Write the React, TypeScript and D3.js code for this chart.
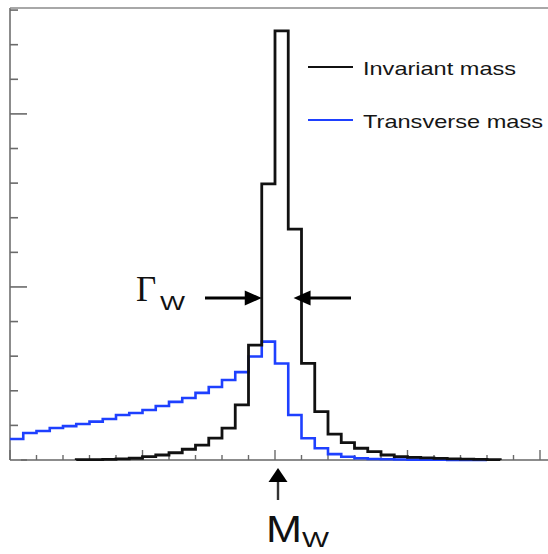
import React from "react";
import * as d3 from "d3";

// Bin contents (arbitrary units, one value per bin, 40 bins)
const invariantMass = [
  0, 0, 0, 0, 0, 0.01, 0.012, 0.02, 0.03, 0.05,
  0.095, 0.145, 0.21, 0.31, 0.43, 0.63, 0.92, 1.59, 3.32, 7.98,
  12.4, 6.67, 2.79, 1.4, 0.75, 0.5, 0.34, 0.24, 0.145, 0.095,
  0.075, 0.06, 0.045, 0.035, 0.025, 0.018, 0.012, 0, 0, 0,
];
const transverseMass = [
  0.607, 0.78, 0.84, 0.925, 0.98, 1.04, 1.11, 1.185, 1.3, 1.36,
  1.445, 1.56, 1.68, 1.79, 1.94, 2.11, 2.31, 2.54, 2.99, 3.42,
  2.79, 1.3, 0.63, 0.34, 0.17, 0.095, 0.05, 0.03, 0.02, 0.015,
  0.01, 0.008, 0.006, 0.005, 0.004, 0.003, 0, 0, 0, 0,
];
const seriesNames = ["Invariant mass", "Transverse mass"];
const seriesColors = ["#111111", "#1e40ff"];
const peakBin = 20; // M_W position (bin edge)
const widthEdges = [19, 21.4]; // Γ_W arrows point at these bin positions
const yTicks = d3.range(0, 14);
const xTicks = d3.range(0, 41, 2);

const W = 548;
const H = 554;

export default function App() {
  const x = d3.scaleLinear().domain([0, 40]).range([10, 540]);
  const y = d3.scaleLinear().domain([0, 13.06]).range([460, 8]);
  const xEnd = 548;

  const stepPath = (data: number[], fromAxis: boolean) => {
    let first = data.findIndex((v) => v > 0);
    let last = data.length - 1;
    while (last > 0 && data[last] === 0) last--;
    const pts: [number, number][] = [];
    if (fromAxis) pts.push([first, 0]);
    for (let i = first; i <= last; i++) pts.push([i, data[i]]);
    pts.push([last + 1, data[last]]);
    pts.push([last + 1, 0]);
    return d3
      .line<[number, number]>()
      .x((d) => x(d[0]))
      .y((d) => y(d[1]))
      .curve(d3.curveStepAfter)(pts) as string;
  };

  const axisColor = "#8c8c8c";
  const tickColor = "#6a6a6a";
  const arrowY = 298;
  const mx = x(peakBin) + 3;

  return (
    <svg
      width={W}
      height={H}
      style={{ position: "absolute", left: 0, top: 0, background: "#fff" }}
      fontFamily="'Liberation Sans', Arial, sans-serif"
    >
      <rect x={0} y={0} width={W} height={H} fill="#fff" />
      {/* frame */}
      <line x1={x(0)} x2={xEnd} y1={y(13.06)} y2={y(13.06)} stroke="#a8a8a8" strokeWidth={2} />
      <line x1={x(0)} x2={x(0)} y1={y(13.06)} y2={y(0)} stroke={axisColor} strokeWidth={2} />
      <line x1={x(0) + 11} x2={xEnd} y1={y(0)} y2={y(0)} stroke={axisColor} strokeWidth={2} />
      {/* y ticks */}
      {yTicks.map((t) => (
        <line
          key={"y" + t}
          x1={x(0)}
          x2={x(0) + (t % 5 === 0 ? 17 : 8)}
          y1={y(t)}
          y2={y(t)}
          stroke={tickColor}
          strokeWidth={1.6}
        />
      ))}
      {/* x ticks */}
      {xTicks.map((t) => (
        <line
          key={"x" + t}
          x1={x(t)}
          x2={x(t)}
          y1={y(0)}
          y2={y(0) - (t % 10 === 0 ? 10 : 5)}
          stroke={tickColor}
          strokeWidth={1.4}
        />
      ))}
      {/* histograms */}
      <path d={stepPath(transverseMass, false)} fill="none" stroke={seriesColors[1]} strokeWidth={2.6} />
      <path d={stepPath(invariantMass, true)} fill="none" stroke={seriesColors[0]} strokeWidth={2.8} />

      {/* legend */}
      {seriesNames.map((name, i) => (
        <g key={name}>
          <line x1={308} x2={353} y1={67 + i * 53} y2={67 + i * 53} stroke={seriesColors[i]} strokeWidth={2.2} />
          <text
            x={363}
            y={75 + i * 53}
            fontSize={18.5}
            fill="#161616"
            textLength={i === 0 ? 153 : 180}
            lengthAdjust="spacingAndGlyphs"
          >
            {name}
          </text>
        </g>
      ))}

      {/* Γ_W annotation */}
      <text x={136} y={301} fontSize={35} fontFamily="'Liberation Serif', 'DejaVu Serif', serif" fill="#111">
        Γ
      </text>
      <text x={160} y={310} fontSize={21} fill="#111" textLength={25} lengthAdjust="spacingAndGlyphs">
        W
      </text>
      <line x1={205} x2={x(widthEdges[0]) - 12} y1={arrowY} y2={arrowY} stroke="#000" strokeWidth={3} />
      <path
        d={`M${x(widthEdges[0])},${arrowY} L${x(widthEdges[0]) - 17},${arrowY - 7.5} L${x(widthEdges[0]) - 17},${arrowY + 7.5} Z`}
        fill="#000"
      />
      <line x1={x(widthEdges[1]) + 12} x2={351} y1={arrowY} y2={arrowY} stroke="#000" strokeWidth={3} />
      <path
        d={`M${x(widthEdges[1])},${arrowY} L${x(widthEdges[1]) + 17},${arrowY - 7.5} L${x(widthEdges[1]) + 17},${arrowY + 7.5} Z`}
        fill="#000"
      />

      {/* M_W annotation */}
      <line x1={mx} x2={mx} y1={478} y2={500} stroke="#333" strokeWidth={2.4} />
      <path d={`M${mx},468 L${mx - 9.5},482 L${mx + 9.5},482 Z`} fill="#000" />
      <text x={266} y={542} fontSize={36} fill="#111" textLength={36} lengthAdjust="spacingAndGlyphs">
        M
      </text>
      <text x={302} y={547} fontSize={22} fill="#111" textLength={27} lengthAdjust="spacingAndGlyphs">
        W
      </text>
    </svg>
  );
}
